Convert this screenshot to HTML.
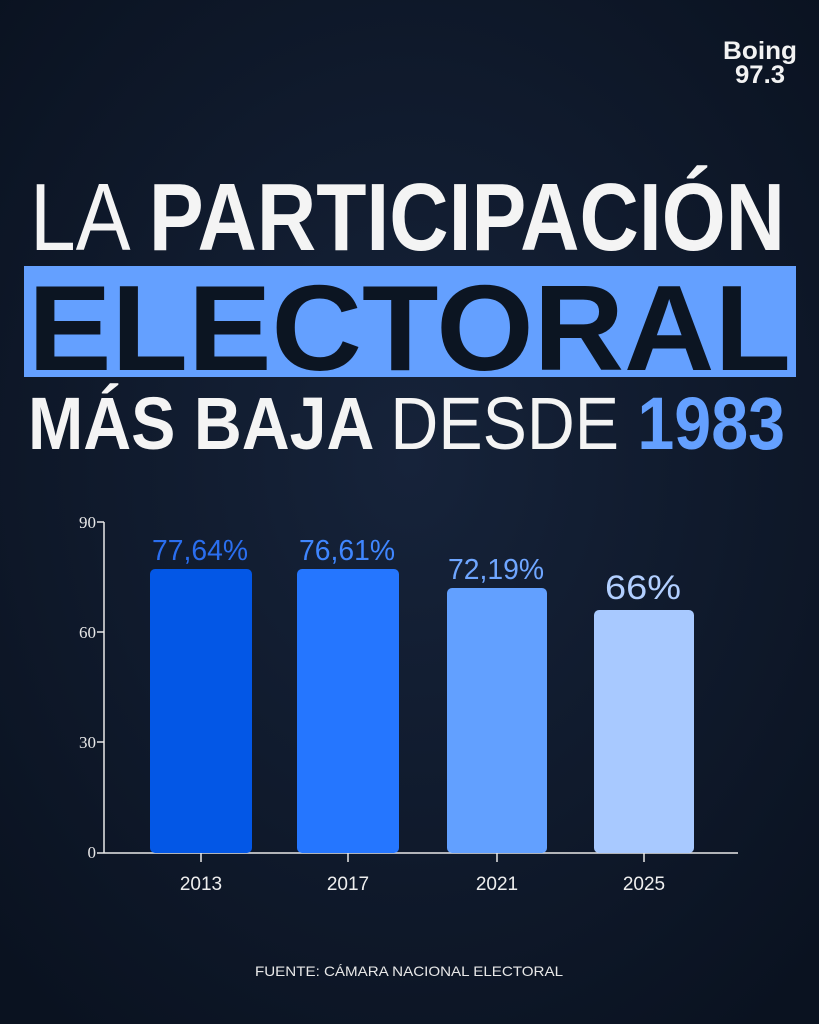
<!DOCTYPE html>
<html><head><meta charset="utf-8"><style>
html,body{margin:0;padding:0;background:#0c1522;}
svg{display:block}
</style></head><body>
<svg width="819" height="1024" viewBox="0 0 819 1024" xmlns="http://www.w3.org/2000/svg" font-family="Liberation Sans, sans-serif">
<defs>
<radialGradient id="bg" cx="0.5" cy="0.45" r="0.7">
<stop offset="0" stop-color="#16233a"/>
<stop offset="1" stop-color="#0a1220"/>
</radialGradient>
</defs>
<rect width="819" height="1024" fill="url(#bg)"/>
<!-- logo -->
<text x="760" y="59" text-anchor="middle" font-size="25" font-weight="bold" fill="#f2f2f2" textLength="74" lengthAdjust="spacingAndGlyphs">Boing</text>
<text x="760" y="83" text-anchor="middle" font-size="25" font-weight="bold" fill="#f2f2f2" textLength="50" lengthAdjust="spacingAndGlyphs">97.3</text>
<!-- title -->
<text x="30" y="250" font-size="96" fill="#f4f4f4" textLength="755" lengthAdjust="spacingAndGlyphs"><tspan>LA </tspan><tspan font-weight="bold">PARTICIPACIÓN</tspan></text>
<rect x="24" y="266" width="772" height="111" fill="#64a0ff"/>
<text x="28" y="370" font-size="122" font-weight="bold" fill="#0c1522" textLength="763" lengthAdjust="spacingAndGlyphs">ELECTORAL</text>
<text x="28" y="449" font-size="74" fill="#f4f4f4" textLength="757" lengthAdjust="spacingAndGlyphs"><tspan font-weight="bold">MÁS BAJA </tspan><tspan>DESDE </tspan><tspan font-weight="bold" fill="#64a0ff">1983</tspan></text>
<!-- axes -->
<g font-family="Liberation Serif, serif" font-size="17" fill="#e8e8e8" text-anchor="end">
<text x="96" y="528">90</text>
<text x="96" y="638">60</text>
<text x="96" y="748">30</text>
<text x="96" y="858">0</text>
</g>
<g stroke="#e8e8e8" stroke-width="1.5">
<line x1="104" y1="522" x2="104" y2="853"/>
<line x1="97" y1="522" x2="104" y2="522"/>
<line x1="97" y1="632" x2="104" y2="632"/>
<line x1="97" y1="742" x2="104" y2="742"/>
<line x1="97" y1="853" x2="738" y2="853"/>
<line x1="201" y1="853" x2="201" y2="862"/>
<line x1="348" y1="853" x2="348" y2="862"/>
<line x1="497" y1="853" x2="497" y2="862"/>
<line x1="644" y1="853" x2="644" y2="862"/>
</g>
<rect x="150" y="569" width="102" height="284" rx="5" fill="#0357e6"/>
<rect x="297" y="569" width="102" height="284" rx="5" fill="#2576ff"/>
<rect x="447" y="588" width="100" height="265" rx="5" fill="#62a0ff"/>
<rect x="594" y="610" width="100" height="243" rx="5" fill="#a8c9ff"/>
<g font-size="29" text-anchor="middle">
<text x="200" y="560" fill="#2a6eef" textLength="96" lengthAdjust="spacingAndGlyphs">77,64%</text>
<text x="347" y="560" fill="#3f86ff" textLength="96" lengthAdjust="spacingAndGlyphs">76,61%</text>
<text x="496" y="579" fill="#6fa6ff" textLength="96" lengthAdjust="spacingAndGlyphs">72,19%</text>
<text x="643" y="599" fill="#b2cfff" font-size="34" textLength="76" lengthAdjust="spacingAndGlyphs">66%</text>
</g>
<g font-size="19" fill="#eeeeee" text-anchor="middle">
<text x="201" y="890">2013</text>
<text x="348" y="890">2017</text>
<text x="497" y="890">2021</text>
<text x="644" y="890">2025</text>
</g>
<text x="409" y="976" text-anchor="middle" font-size="14" fill="#e8e8e8" textLength="308" lengthAdjust="spacingAndGlyphs">FUENTE: CÁMARA NACIONAL ELECTORAL</text>
</svg>
</body></html>
